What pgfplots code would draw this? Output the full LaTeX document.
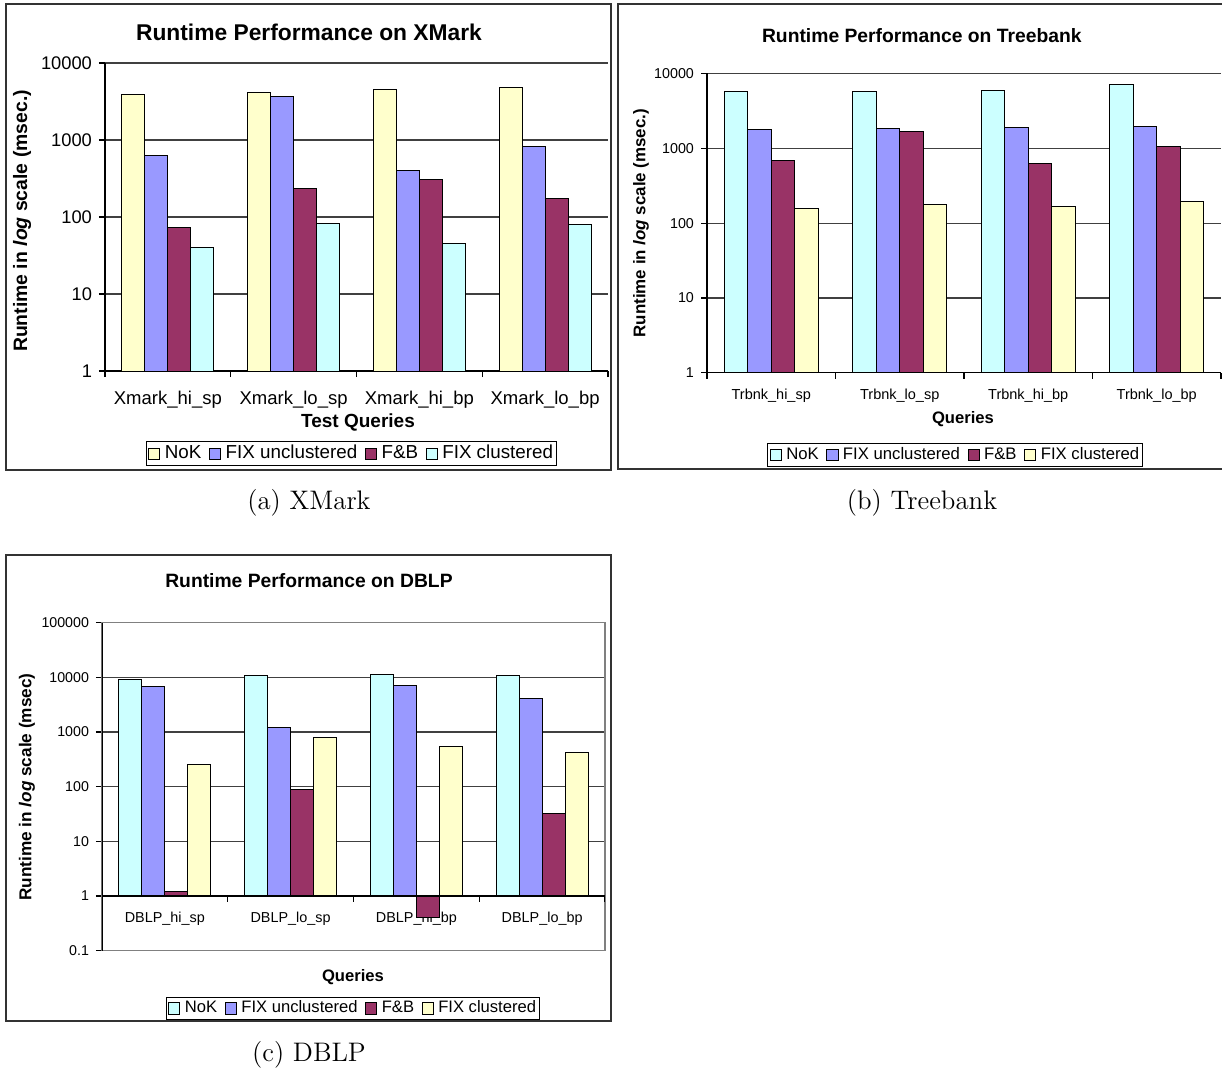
\documentclass[border=0pt]{standalone}
\usepackage{fontspec}
\newfontfamily\arial{Liberation Sans}
\usepackage{pgfplots}
\pgfplotsset{compat=1.18}
\definecolor{cyanx}{HTML}{CCFFFF}
\definecolor{bluex}{HTML}{9999FF}
\definecolor{plumx}{HTML}{993366}
\definecolor{yelx}{HTML}{FFFFCC}
\newcommand\fs[1]{\fontsize{#1}{#1}\selectfont}
\pgfplotsset{
  sqlegend/.style={legend image code/.code={\draw[##1,draw=black,line width=0.4pt] (0pt,-2.8pt) rectangle (5.6pt,2.8pt);}},
}
\begin{document}
\begin{tikzpicture}
\path[use as bounding box] (0pt,0pt) rectangle (611pt,-535.5pt);
\begin{scope}[x=0.5pt,y=-0.5pt]
\draw[line width=1pt, black!80] (6,4) rectangle (611,470);
\draw[line width=1pt, black!80] (1226,4) -- (618,4) -- (618,469) -- (1226,469);
\draw[line width=1pt, black!80] (6,555) rectangle (611,1021);
\node[font=\fs{13.4}] at (309,503) {(a) XMark};
\node[font=\fs{13.4}] at (922,503) {(b) Treebank};
\node[font=\fs{13.4}] at (309,1055) {(c) DBLP};
\end{scope}

% (a) XMark
\begin{axis}[
  scale only axis,
  at={(52.5pt,-185.5pt)}, anchor=south west,
  width=251.5pt, height=154pt,
  ymode=log, log origin y=0,
  ybar=0pt, bar width=0.183,
  xmin=-0.5, xmax=3.5,
  ymin=1, ymax=10000,
  ymajorgrids, yminorticks=false,
  major grid style={black!75, line width=0.6pt},
  tick align=outside, major tick length=3pt,
  tick style={black, line width=0.6pt},
  every axis plot post/.append style={draw=black, line width=0.5pt, sqlegend},
  axis x line*=bottom, axis y line*=left,
  axis line style={-, black, line width=0.7pt},
  ytick={1,10,100,1000,10000}, yticklabels={1,10,100,1000,10000},
  yticklabel style={font=\arial\fs{9.15}},
  xtick={-0.5,0.5,1.5,2.5,3.5}, xticklabels={,,,,},
  extra x ticks={0,1,2,3},
  extra x tick labels={Xmark\_hi\_sp,Xmark\_lo\_sp,Xmark\_hi\_bp,Xmark\_lo\_bp},
  extra x tick style={major tick length=0pt},
  xticklabel style={font=\arial\fs{9.25}, anchor=center, yshift=-14.5pt},
  title={Runtime Performance on XMark},
  title style={at={(0.4056,1.0616)}, anchor=center, font=\arial\bfseries\fs{11.4}},
  ylabel={Runtime in \textit{log} scale (msec.)},
  ylabel style={at={(-0.165,0.487)}, anchor=center, font=\arial\bfseries\fs{9.7}},
  xlabel={Test Queries},
  xlabel style={at={(0.503,-0.1656)}, anchor=center, font=\arial\bfseries\fs{9.5}},
  legend columns=4,
  legend style={draw=black, line width=0.6pt, inner xsep=1pt, inner ysep=1pt,
    nodes={inner sep=0.8pt}, at={(0.490,-0.268)}, anchor=center, font=\arial\fs{9.4},
    /tikz/every odd column/.append style={column sep=1.5pt},
    /tikz/every even column/.append style={column sep=3pt}},
]
\addplot[fill=yelx] coordinates {(0,3880) (1,4200) (2,4590) (3,4780)};
\addplot[fill=bluex] coordinates {(0,620) (1,3690) (2,404) (3,828)};
\addplot[fill=plumx] coordinates {(0,74) (1,238) (2,309) (3,173)};
\addplot[fill=cyanx] coordinates {(0,40.5) (1,83) (2,45) (3,80)};
\legend{NoK,FIX unclustered,F\&B,FIX clustered}
\end{axis}

% (b) Treebank
\begin{axis}[
  scale only axis,
  at={(353.5pt,-186.35pt)}, anchor=south west,
  width=257pt, height=149.6pt,
  ymode=log, log origin y=0,
  ybar=0pt, bar width=0.183,
  xmin=-0.5, xmax=3.5,
  ymin=1, ymax=10000,
  ymajorgrids, yminorticks=false,
  major grid style={black!75, line width=0.6pt},
  tick align=outside, major tick length=3pt,
  tick style={black, line width=0.6pt},
  every axis plot post/.append style={draw=black, line width=0.5pt, sqlegend},
  axis x line*=bottom, axis y line*=left,
  axis line style={-, black, line width=0.7pt},
  ytick={1,10,100,1000,10000}, yticklabels={1,10,100,1000,10000},
  yticklabel style={font=\arial\fs{7.15}},
  xtick={-0.5,0.5,1.5,2.5,3.5}, xticklabels={,,,,},
  extra x ticks={0,1,2,3},
  extra x tick labels={Trbnk\_hi\_sp,Trbnk\_lo\_sp,Trbnk\_hi\_bp,Trbnk\_lo\_bp},
  extra x tick style={major tick length=0pt},
  xticklabel style={font=\arial\fs{7.25}, anchor=center, yshift=-11.5pt},
  title={Runtime Performance on Treebank},
  title style={at={(0.418,1.0853)}, anchor=center, font=\arial\bfseries\fs{9.65}},
  ylabel={Runtime in \textit{log} scale (msec.)},
  ylabel style={at={(-0.1284,0.500)}, anchor=center, font=\arial\bfseries\fs{8.45}},
  xlabel={Queries},
  xlabel style={at={(0.498,-0.1547)}, anchor=center, font=\arial\bfseries\fs{8.3}},
  legend columns=4,
  legend style={draw=black, line width=0.6pt, inner xsep=1pt, inner ysep=1pt,
    nodes={inner sep=0.8pt}, at={(0.483,-0.275)}, anchor=center, font=\arial\fs{8.35},
    /tikz/every odd column/.append style={column sep=1.5pt},
    /tikz/every even column/.append style={column sep=3pt}},
]
\addplot[fill=cyanx] coordinates {(0,5710) (1,5710) (2,5890) (3,7020)};
\addplot[fill=bluex] coordinates {(0,1773) (1,1828) (2,1909) (3,1945)};
\addplot[fill=plumx] coordinates {(0,691) (1,1667) (2,622) (3,1050)};
\addplot[fill=yelx] coordinates {(0,158) (1,176) (2,169) (3,193)};
\legend{NoK,FIX unclustered,F\&B,FIX clustered}
\end{axis}

% (c) DBLP
\begin{axis}[
  scale only axis,
  at={(51pt,-475.35pt)}, anchor=south west,
  width=251.5pt, height=164pt,
  ymode=log, log origin y=0,
  ybar=0pt, bar width=0.183,
  xmin=-0.5, xmax=3.5,
  ymin=0.1, ymax=100000,
  ymajorgrids, yminorticks=false,
  major grid style={black!75, line width=0.6pt},
  tick align=outside, major tick length=3pt,
  tick style={black, line width=0.6pt},
  every axis plot post/.append style={draw=black, line width=0.5pt, sqlegend},
  axis line style={black!50, line width=0.7pt},
  ytick pos=left,
  ytick={0.1,1,10,100,1000,10000,100000}, yticklabels={0.1,1,10,100,1000,10000,100000},
  yticklabel style={font=\arial\fs{7.1}},
  xtick={0,1,2,3},
  xticklabels={DBLP\_hi\_sp,DBLP\_lo\_sp,DBLP\_hi\_bp,DBLP\_lo\_bp},
  xtick style={draw=none},
  xticklabel style={font=\arial\fs{7.2}, anchor=center, yshift=18.85pt},
  title={Runtime Performance on DBLP},
  title style={at={(0.4115,1.0904)}, anchor=center, font=\arial\bfseries\fs{9.65}},
  ylabel={Runtime in \textit{log} scale (msec)},
  ylabel style={at={(-0.149,0.499)}, anchor=center, font=\arial\bfseries\fs{8.6}},
  xlabel={Queries},
  xlabel style={at={(0.499,-0.082)}, anchor=center, font=\arial\bfseries\fs{8.3}},
  legend columns=4,
  legend style={draw=black, line width=0.6pt, inner xsep=1pt, inner ysep=1pt,
    nodes={inner sep=0.8pt}, at={(0.499,-0.176)}, anchor=center, font=\arial\fs{8.3},
    /tikz/every odd column/.append style={column sep=1.5pt},
    /tikz/every even column/.append style={column sep=3pt}},
]
\addplot[fill=cyanx] coordinates {(0,9160) (1,10970) (2,11300) (3,10650)};
\addplot[fill=bluex] coordinates {(0,6820) (1,1214) (2,7110) (3,4050)};
\addplot[fill=plumx] coordinates {(0,1.2) (1,89) (2,0.4) (3,32.5)};
\addplot[fill=yelx] coordinates {(0,256) (1,796) (2,536) (3,417)};
\legend{NoK,FIX unclustered,F\&B,FIX clustered}
\draw[black, line width=0.7pt] (rel axis cs:0,0) -- (rel axis cs:0,1);
\draw[black, line width=0.7pt] (axis cs:-0.5,1) -- (axis cs:3.5,1);
\draw[black, line width=0.6pt] (axis cs:0.5,1) -- ++(0pt,-3pt);
\draw[black, line width=0.6pt] (axis cs:1.5,1) -- ++(0pt,-3pt);
\draw[black, line width=0.6pt] (axis cs:2.5,1) -- ++(0pt,-3pt);
\draw[black, line width=0.6pt] (axis cs:3.5,1) -- ++(0pt,-3pt);
\end{axis}
\end{tikzpicture}
\end{document}
